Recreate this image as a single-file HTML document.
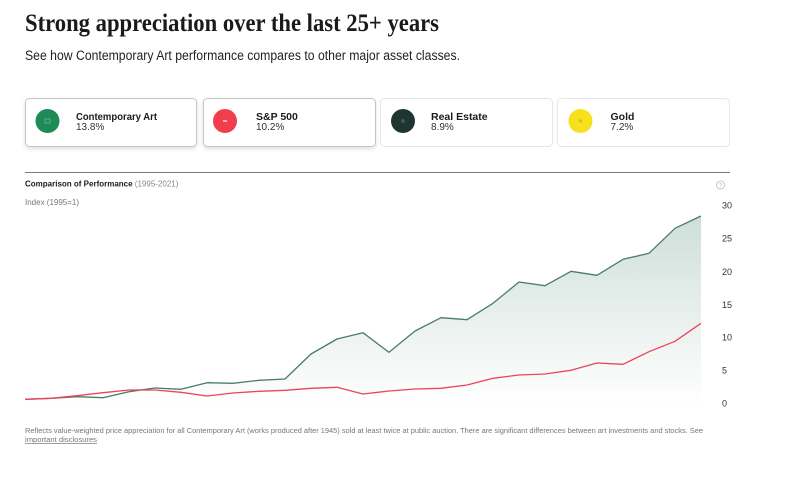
<!DOCTYPE html>
<html><head><meta charset="utf-8"><style>
html,body{margin:0;padding:0;background:#fff;}
svg{display:block;}
</style></head><body>
<svg width="791" height="484" viewBox="0 0 791 484" xmlns="http://www.w3.org/2000/svg">
<defs>
<linearGradient id="g" x1="0" y1="216" x2="0" y2="405" gradientUnits="userSpaceOnUse">
<stop offset="0" stop-color="#3d7d62" stop-opacity="0.25"/>
<stop offset="1" stop-color="#3d7d62" stop-opacity="0"/>
</linearGradient>
<filter id="sh" x="-10%" y="-20%" width="120%" height="160%">
<feDropShadow dx="0" dy="2" stdDeviation="2" flood-color="#000" flood-opacity="0.12"/>
</filter>
</defs>
<rect width="791" height="484" fill="#fff"/>
<text x="25" y="31" font-family="Liberation Serif, serif" font-weight="bold" font-size="25" fill="#1a1a1a" textLength="414" lengthAdjust="spacingAndGlyphs">Strong appreciation over the last 25+ years</text>
<text x="25" y="60" font-family="Liberation Sans, sans-serif" font-size="13.5" fill="#222" textLength="435" lengthAdjust="spacingAndGlyphs">See how Contemporary Art performance compares to other major asset classes.</text>

<!-- cards -->
<rect x="25.5" y="98.5" width="171" height="48" rx="4" fill="#fff" stroke="#c4c4c4" filter="url(#sh)"/>
<rect x="203.5" y="98.5" width="172" height="48" rx="4" fill="#fff" stroke="#c4c4c4" filter="url(#sh)"/>
<rect x="380.5" y="98.5" width="172" height="48" rx="4" fill="#fff" stroke="#e6e6e6"/>
<rect x="557.5" y="98.5" width="172" height="48" rx="4" fill="#fff" stroke="#e6e6e6"/>

<circle cx="47.5" cy="121" r="12" fill="#1d8a58"/>
<rect x="45" y="119" width="5" height="4" fill="none" stroke="#7fc4a2" stroke-width="0.6"/>
<circle cx="225" cy="121" r="12" fill="#f23d4c"/>
<rect x="223" y="120" width="4" height="2" fill="#ffb0b6"/>
<circle cx="403" cy="121" r="12" fill="#1f3630"/>
<circle cx="403" cy="121" r="2" fill="#3e5a52"/>
<circle cx="580.5" cy="121" r="12" fill="#f7e11c"/>
<path d="M579 122.5 L580.5 119.5 L582 122.5" fill="none" stroke="#b8a300" stroke-width="0.7"/>

<g font-family="Liberation Sans, sans-serif" fill="#1a1a1a">
<text x="76" y="120" font-size="10.5" font-weight="bold" textLength="81" lengthAdjust="spacingAndGlyphs">Contemporary Art</text>
<text x="76" y="130" font-size="10" fill="#333">13.8%</text>
<text x="256" y="120" font-size="10.5" font-weight="bold">S&amp;P 500</text>
<text x="256" y="130" font-size="10" fill="#333">10.2%</text>
<text x="431" y="120" font-size="10.5" font-weight="bold">Real Estate</text>
<text x="431" y="130" font-size="10" fill="#333">8.9%</text>
<text x="610.5" y="120" font-size="10.5" font-weight="bold">Gold</text>
<text x="610.5" y="130" font-size="10" fill="#333">7.2%</text>
</g>

<line x1="25" y1="172.5" x2="730" y2="172.5" stroke="#7a7a7a" stroke-width="1"/>

<text x="25" y="186.5" font-family="Liberation Sans, sans-serif" font-size="8" fill="#1a1a1a"><tspan font-weight="bold">Comparison of Performance</tspan><tspan fill="#888"> (1995-2021)</tspan></text>
<text x="25" y="205" font-family="Liberation Sans, sans-serif" font-size="8" fill="#777">Index (1995=1)</text>

<circle cx="720.5" cy="185" r="4" fill="none" stroke="#bbb" stroke-width="0.8"/>
<text x="720.5" y="187.2" font-family="Liberation Sans, sans-serif" font-size="5.5" fill="#aaa" text-anchor="middle">?</text>

<g font-family="Liberation Sans, sans-serif" font-size="9" fill="#333">
<text x="722" y="208.5">30</text>
<text x="722" y="241.5">25</text>
<text x="722" y="275">20</text>
<text x="722" y="308">15</text>
<text x="722" y="340.5">10</text>
<text x="722" y="373.5">5</text>
<text x="722" y="406.5">0</text>
</g>

<polygon fill="url(#g)" points="25,399.3 51,398.3 77,396.7 103,397.7 129,391.7 155,388 181,389.3 207,382.7 233,383.3 259,380.3 285,379 311,354 337,339 363,332.7 389,352.3 415,331 441,317.7 467,319.7 493,303.3 519,282 545,285.7 571,271.3 597,275.3 623,259.3 649,253.3 675,228.3 701,216 701,405 25,405"/>

<polyline fill="none" stroke="#4a7d68" stroke-width="1.3" stroke-linejoin="round" points="25,399.3 51,398.3 77,396.7 103,397.7 129,391.7 155,388 181,389.3 207,382.7 233,383.3 259,380.3 285,379 311,354 337,339 363,332.7 389,352.3 415,331 441,317.7 467,319.7 493,303.3 519,282 545,285.7 571,271.3 597,275.3 623,259.3 649,253.3 675,228.3 701,216"/>

<polyline fill="none" stroke="#ea4559" stroke-width="1.3" stroke-linejoin="round" points="25,399.3 51,398.3 77,395.7 103,392.7 129,390 155,390 181,392.3 207,396 233,393 259,391.3 285,390.3 311,388.3 337,387.3 363,394 389,391 415,389 441,388.3 467,385 493,378.3 519,375 545,374 571,370.3 597,363 623,364.3 649,351.7 675,341.3 701,323.3"/>

<text x="25" y="433" font-family="Liberation Sans, sans-serif" font-size="7" fill="#777" textLength="678" lengthAdjust="spacingAndGlyphs">Reflects value-weighted price appreciation for all Contemporary Art (works produced after 1945) sold at least twice at public auction. There are significant differences between art investments and stocks. See</text>
<text x="25" y="442" font-family="Liberation Sans, sans-serif" font-size="7" fill="#777" textLength="72" lengthAdjust="spacingAndGlyphs" text-decoration="underline">important disclosures</text>
</svg>
</body></html>
